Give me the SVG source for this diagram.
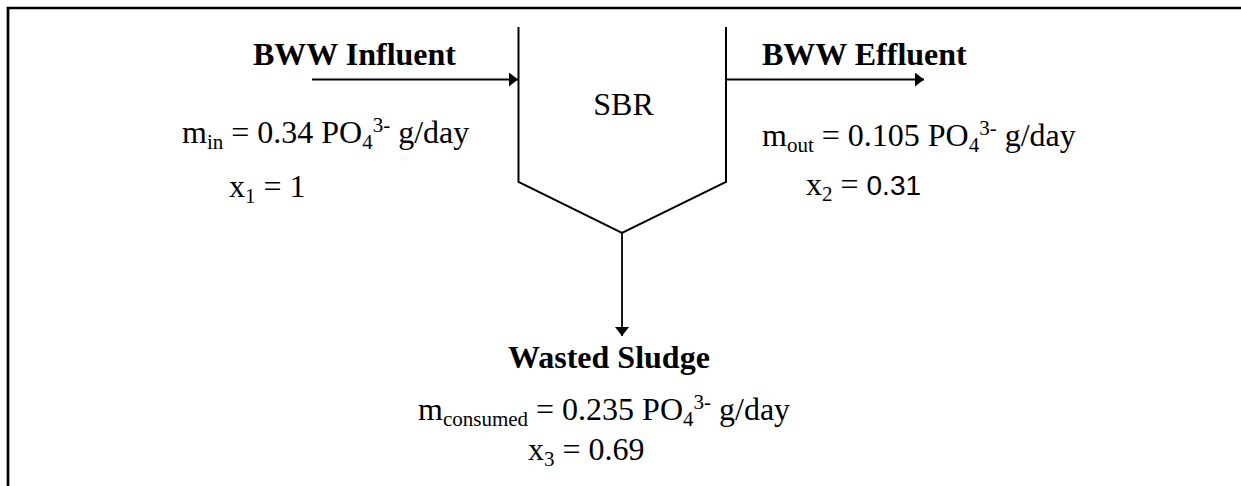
<svg xmlns="http://www.w3.org/2000/svg" width="1241" height="486" viewBox="0 0 1241 486">
<style>
.t{font-family:"Liberation Serif","Times New Roman",serif;font-size:32px;fill:#000}
.b{font-weight:bold}
.s{font-size:21px}
.ln{stroke:#000;stroke-width:2;fill:none}
.ar{stroke:#000;stroke-width:1.8;fill:none}
.fr{stroke:#000;stroke-width:2.7;fill:none}
</style>
<defs>
<marker id="ah" viewBox="0 0 9 14" refX="9" refY="7" markerWidth="9" markerHeight="14" markerUnits="userSpaceOnUse" orient="auto">
<path d="M0,0 L9,7 L0,14 Z" fill="#000"/>
</marker>
</defs>
<rect width="1241" height="486" fill="#fff"/>
<path class="fr" d="M8,486 L8,8 L1241,8"/>
<g id="sbr">
<path class="ln" d="M518.5,27 L518.5,182 L622,233 L726,182 L726,27"/>
<text class="t" x="623.5" y="115" text-anchor="middle">SBR</text>
</g>
<g id="influent">
<text class="t b" x="253" y="65">BWW Influent</text>
<text class="t" x="182" y="143">m<tspan class="s" dy="6">in</tspan><tspan dy="-6"> = 0.34 PO</tspan><tspan class="s" dy="6">4</tspan><tspan class="s" dy="-17">3-</tspan><tspan dy="11"> g/day</tspan></text>
<text class="t" x="229" y="197">x<tspan class="s" dy="6">1</tspan><tspan dy="-6"> = 1</tspan></text>
</g>
<g id="effluent">
<text class="t b" x="762" y="65">BWW Effluent</text>
<text class="t" x="762" y="146">m<tspan class="s" dy="6">out</tspan><tspan dy="-6"> = 0.105 PO</tspan><tspan class="s" dy="6">4</tspan><tspan class="s" dy="-17">3-</tspan><tspan dy="11"> g/day</tspan></text>
<text class="t" x="806" y="195">x<tspan class="s" dy="6">2</tspan><tspan dy="-6"> = </tspan><tspan style="font-family:'Liberation Sans',Arial,sans-serif;font-size:28px">0.31</tspan></text>
</g>
<g id="sludge">
<text class="t b" x="508" y="368">Wasted Sludge</text>
<text class="t" x="418" y="420">m<tspan class="s" dy="6">consumed</tspan><tspan dy="-6"> = 0.235 PO</tspan><tspan class="s" dy="6">4</tspan><tspan class="s" dy="-17">3-</tspan><tspan dy="11"> g/day</tspan></text>
<text class="t" x="528" y="460">x<tspan class="s" dy="6">3</tspan><tspan dy="-6"> = 0.69</tspan></text>
</g>
<g id="connectors">
<line class="ar" x1="312" y1="79.5" x2="518" y2="79.5" marker-end="url(#ah)"/>
<line class="ar" x1="726" y1="79.5" x2="924" y2="79.5" marker-end="url(#ah)"/>
<line class="ar" x1="622" y1="233" x2="622" y2="336" marker-end="url(#ah)"/>
</g>
</svg>
